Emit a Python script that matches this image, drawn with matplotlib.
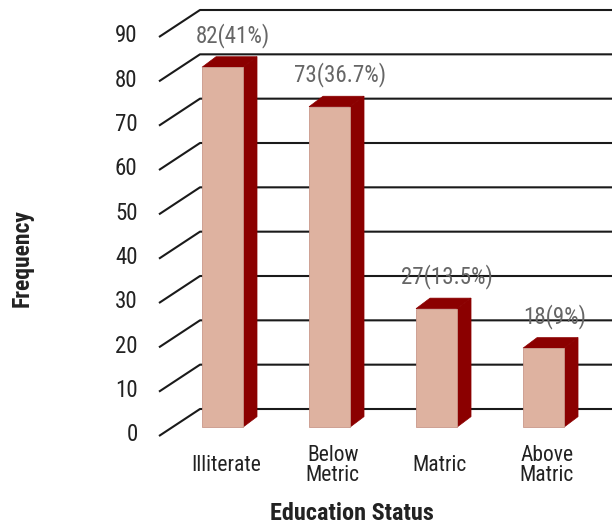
import matplotlib
matplotlib.use("Agg")
import matplotlib.pyplot as plt
from matplotlib.patches import Polygon
from matplotlib import font_manager

categories = ["Illiterate", "Below\nMetric", "Matric", "Above\nMatric"]
frequencies = [82, 73, 27, 18]
percent_labels = ["82(41%)", "73(36.7%)", "27(13.5%)", "18(9%)"]
y_ticks = [0, 10, 20, 30, 40, 50, 60, 70, 80, 90]

names = {f.name for f in font_manager.fontManager.ttflist}
fam = [n for n in ["Liberation Sans Narrow", "Roboto Condensed", "Liberation Sans"] if n in names] + ["DejaVu Sans"]
plt.rcParams['font.family'] = fam

W, H = 612, 523
fig = plt.figure(figsize=(W / 100, H / 100), dpi=100)
# axes spans the front plane of the chart
ax = fig.add_axes([159 / W, (H - 436) / H, (612 - 159) / W, (436 - 37) / H])
ax.set_xlim(-0.5935, 3.640)
ax.set_ylim(0, 90)
ax.axis("off")

# projection parameters (data units)
wall_dx, wall_dy = 0.383, 6.09
bar_dx, bar_dy = 0.131, 2.37
bar_base = 2.0
bar_w = 0.383
bar_scale = 0.99
front_col = "#DEB2A0"
dark_col = "#8B0000"

xl, xr = ax.get_xlim()
for v in y_ticks:
    ax.plot([xl, xl + wall_dx, xr], [v, v + wall_dy, v + wall_dy],
            color="#1a1a1a", lw=1.5, clip_on=False, zorder=1, solid_capstyle="butt")
    ax.text(xl - 0.2, v + 0.3, str(v), ha="right", va="center", fontsize=16.5,
            color="#222222", clip_on=False)

xs = list(range(len(categories)))
heights = [f * bar_scale for f in frequencies]
ax.bar(xs, heights, width=bar_w, bottom=bar_base, color=front_col,
       edgecolor="#C9988A", linewidth=0.6, zorder=3, clip_on=False)
hw = bar_w / 2
for x, h, lab in zip(xs, heights, percent_labels):
    top = bar_base + h
    ax.add_patch(Polygon([(x + hw, bar_base), (x + hw, top), (x + hw + bar_dx, top + bar_dy),
                          (x + hw + bar_dx, bar_base + bar_dy)], closed=True,
                         facecolor=dark_col, edgecolor=dark_col, lw=0.5, zorder=2, clip_on=False))
    ax.add_patch(Polygon([(x - hw, top), (x + hw, top), (x + hw + bar_dx, top + bar_dy),
                          (x - hw + bar_dx, top + bar_dy)], closed=True,
                         facecolor=dark_col, edgecolor=dark_col, lw=0.5, zorder=2, clip_on=False))
    ax.text(x + 0.1, top + 7.2, lab, ha="center", va="center", fontsize=16.5,
            color="#666666", clip_on=False)

for x, c in zip(xs, categories):
    ax.text(x + 0.03, -6.6, c, ha="center", va="center", fontsize=15.5,
            color="#222222", linespacing=0.95, clip_on=False)

fig.text(352 / W, 1 - 513 / H, "Education Status", ha="center", va="center",
         fontsize=17.5, fontweight="bold", color="#222222")
fig.text(22 / W, 1 - 258 / H, "Frequency", ha="center", va="center", rotation=90,
         fontsize=17, fontweight="bold", color="#222222")

fig.savefig("out.png", dpi=100)
